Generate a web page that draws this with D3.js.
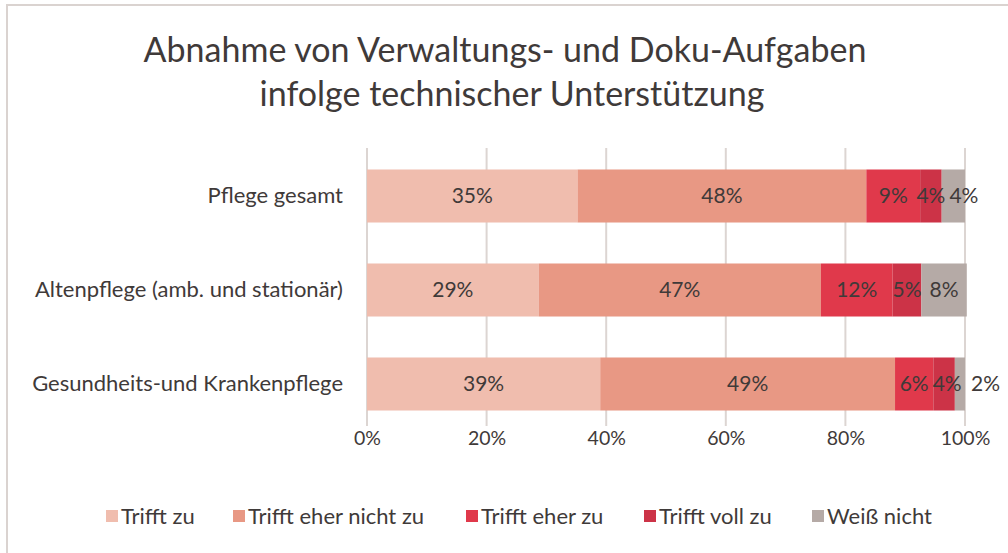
<!DOCTYPE html>
<html>
<head>
<meta charset="utf-8">
<script src="https://cdn.jsdelivr.net/npm/d3@7"></script>
<style>
  html, body { margin: 0; padding: 0; background: #fff; }
  svg { display: block; }
  text { font-family: Lato, "Open Sans", sans-serif; fill: #3f3a39; }
</style>
</head>
<body>
<svg id="chart" width="1008" height="553"></svg>
<script>
// ---- data ----
const title = ["Abnahme von Verwaltungs- und Doku-Aufgaben", "infolge technischer Unterstützung"];
const categories = ["Pflege gesamt", "Altenpflege (amb. und stationär)", "Gesundheits-und Krankenpflege"];
const seriesNames = ["Trifft zu", "Trifft eher nicht zu", "Trifft eher zu", "Trifft voll zu", "Weiß nicht"];
const seriesColors = ["#f0bdae", "#e89884", "#e0394b", "#cc3347", "#b5aaa6"];
const trifftZu         = [35.2, 28.7, 39.0];
const trifftEherNicht  = [48.3, 47.2, 49.3];
const trifftEherZu     = [9.0, 12.0, 6.4];
const trifftVollZu     = [3.6, 4.8, 3.6];
const weissNicht       = [3.9, 7.6, 1.7];
const tickValues = [0, 20, 40, 60, 80, 100];

const seriesValues = [trifftZu, trifftEherNicht, trifftEherZu, trifftVollZu, weissNicht];
const table = categories.map((c, i) => {
  const row = { category: c };
  seriesNames.forEach((s, j) => row[s] = seriesValues[j][i]);
  return row;
});

const FONT = "Lato, 'Open Sans', sans-serif";
const svg = d3.select("#chart");

// chart frame (left & top edges visible)
svg.append("line").attr("x1", 7).attr("x2", 7).attr("y1", 4).attr("y2", 553)
  .attr("stroke", "#dad3d0").attr("stroke-width", 2);
svg.append("line").attr("x1", 6).attr("x2", 1008).attr("y1", 5).attr("y2", 5)
  .attr("stroke", "#dad3d0").attr("stroke-width", 2);

// title
svg.append("text").attr("x", 505).attr("y", 62).attr("text-anchor", "middle")
  .style("font-size", "34px").text(title[0]);
svg.append("text").attr("x", 512).attr("y", 106).attr("text-anchor", "middle")
  .style("font-size", "34px").text(title[1]);

const x = d3.scaleLinear().domain([0, 100]).range([367, 965]);
const y = d3.scaleBand().domain(categories).range([149, 431]).paddingInner(0.436).paddingOuter(0.218);

// gridlines
svg.append("g").selectAll("line").data(tickValues).join("line")
  .attr("x1", d => x(d)).attr("x2", d => x(d))
  .attr("y1", 148).attr("y2", 426)
  .attr("stroke", "#dcd5d2").attr("stroke-width", 2);

// x axis labels
const xAxis = d3.axisBottom(x).tickValues(tickValues).tickFormat(d => d + "%").tickSize(0).tickPadding(0);
const xg = svg.append("g").attr("transform", "translate(0,430)").call(xAxis);
xg.select(".domain").remove();
xg.selectAll("text").attr("dy", 0).attr("y", 15)
  .style("font-size", "19.5px").style("font-family", FONT).attr("fill", "#3f3a39");

// y axis labels
const yAxis = d3.axisLeft(y).tickSize(0).tickPadding(0);
const yg = svg.append("g").attr("transform", "translate(343,0)").call(yAxis);
yg.select(".domain").remove();
yg.selectAll("text").style("font-size", "22px").style("font-family", FONT)
  .attr("fill", "#3f3a39");

// stacked bars
const stack = d3.stack().keys(seriesNames);
const stacked = stack(table);
const color = d3.scaleOrdinal().domain(seriesNames).range(seriesColors);

const layers = svg.append("g").selectAll("g").data(stacked).join("g")
  .attr("fill", d => color(d.key));
layers.selectAll("rect").data(d => d).join("rect")
  .attr("x", d => x(d[0]))
  .attr("width", d => x(d[1]) - x(d[0]))
  .attr("y", d => y(d.data.category))
  .attr("height", y.bandwidth());

// data labels (centered; nudged right to avoid collisions; tiny segments outside)
const labelG = svg.append("g");
categories.forEach((cat, ci) => {
  let prevRight = -Infinity;
  stacked.forEach(layer => {
    const d = layer[ci];
    const w = x(d[1]) - x(d[0]);
    const v = d[1] - d[0];
    const t = labelG.append("text")
      .attr("y", y(cat) + y.bandwidth() / 2)
      .attr("dy", "0.35em")
      .attr("text-anchor", "start")
      .style("font-size", "21px")
      .text(Math.round(v) + "%");
    const tw = t.node().getComputedTextLength();
    let left = w < 15 ? x(d[1]) + 6 : (x(d[0]) + x(d[1])) / 2 - tw / 2;
    if (left < prevRight + 4) left = prevRight + 4;
    t.attr("x", left);
    prevRight = left + tw;
  });
});

// legend
const legend = svg.append("g").attr("transform", "translate(0,516)");
const legendX = [106, 233, 466, 644, 812];
seriesNames.forEach((s, i) => {
  const g = legend.append("g").attr("transform", `translate(${legendX[i]},0)`);
  g.append("rect").attr("x", 0).attr("y", -6).attr("width", 12).attr("height", 12).attr("fill", seriesColors[i]);
  g.append("text").attr("x", 15).attr("y", 0).attr("dy", "0.35em").style("font-size", "22px").text(s);
});
</script>
</body>
</html>
